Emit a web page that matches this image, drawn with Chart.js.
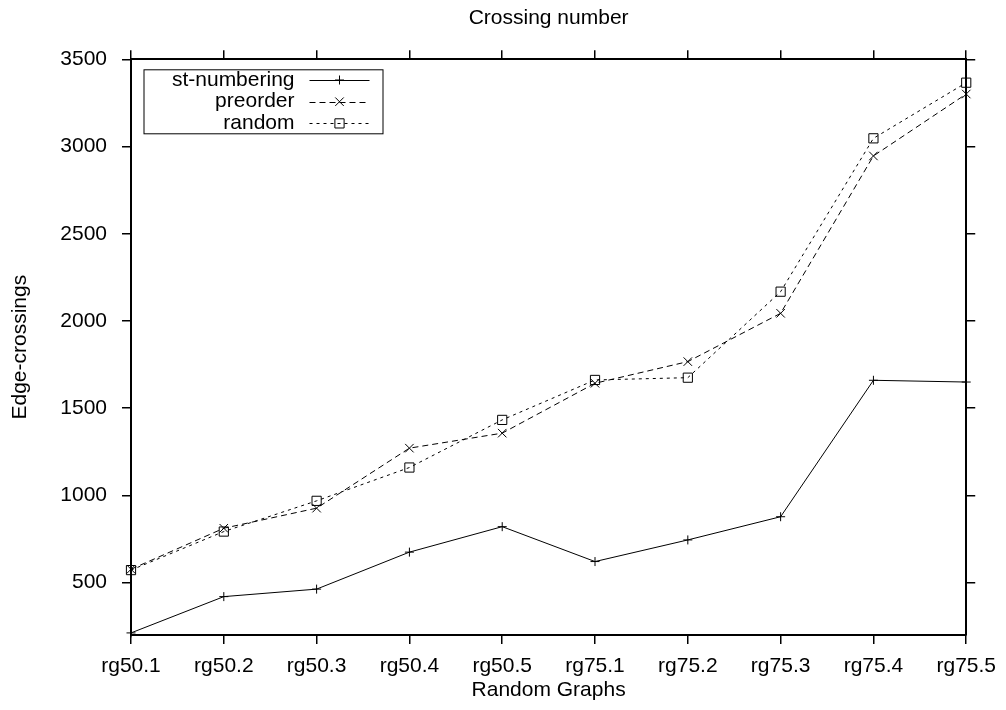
<!DOCTYPE html>
<html>
<head>
<meta charset="utf-8">
<title>Crossing number</title>
<script src="https://cdn.jsdelivr.net/npm/chart.js@4.4.1/dist/chart.umd.min.js"></script>
<style>
  html, body { margin: 0; padding: 0; background: #fff; }
  #wrap { width: 1006px; height: 710px; }
</style>
</head>
<body>
<div id="wrap"><canvas id="crossingChart" width="1006" height="710"></canvas></div>
<script>
// Data
const graphs = ['rg50.1', 'rg50.2', 'rg50.3', 'rg50.4', 'rg50.5', 'rg75.1', 'rg75.2', 'rg75.3', 'rg75.4', 'rg75.5'];
const stNumbering = [212, 420, 463, 675, 821, 621, 745, 878, 1660, 1650];
const preorder = [577, 812, 927, 1271, 1357, 1643, 1767, 2044, 2946, 3301];
const randomOrder = [572, 793, 969, 1160, 1433, 1662, 1675, 2168, 3047, 3366];
const yTickValues = [500, 1000, 1500, 2000, 2500, 3000, 3500];
const yMin = 200;
const yMax = 3500;

const FONT_SIZE = 21;
Chart.defaults.font.family = "'Liberation Sans', Arial, Helvetica, sans-serif";
Chart.defaults.font.size = FONT_SIZE;
Chart.defaults.color = '#000';

// gnuplot style key: label on the left, line sample + marker on the right
const gnuplotKey = {
  id: 'gnuplotKey',
  afterDatasetsDraw(chart) {
    const { ctx, chartArea } = chart;
    const left = chartArea.left + 12.5;
    const top = chartArea.top + 10;
    const rowH = 21.7;

    ctx.save();
    ctx.strokeStyle = '#000';
    ctx.lineWidth = 1;
    ctx.strokeRect(left + 0.5, top + 0.5, 239, 64);

    ctx.font = FONT_SIZE + "px 'Liberation Sans', Arial, sans-serif";
    ctx.textAlign = 'right';
    ctx.textBaseline = 'middle';

    chart.data.datasets.forEach((ds, i) => {
      const y = top + 10.7 + i * rowH;
      ctx.fillStyle = '#000';
      ctx.fillText(ds.label, left + 151, y);

      ctx.beginPath();
      ctx.setLineDash(ds.borderDash || []);
      ctx.lineWidth = ds.borderWidth;
      ctx.moveTo(left + 166, Math.round(y) + 0.5);
      ctx.lineTo(left + 226, Math.round(y) + 0.5);
      ctx.stroke();
      ctx.setLineDash([]);

      ctx.fillStyle = ds.pointBackgroundColor || 'rgba(0,0,0,0)';
      ctx.lineWidth = ds.pointBorderWidth;
      if (Chart.helpers && Chart.helpers.drawPoint) {
        Chart.helpers.drawPoint(ctx, {
          pointStyle: ds.pointStyle,
          radius: ds.pointRadius,
          rotation: 0,
          borderWidth: ds.pointBorderWidth
        }, left + 196, y);
      }
    });
    ctx.restore();
  }
};

const tickGrid = {
  display: true,
  drawOnChartArea: false,
  drawTicks: true,
  tickLength: 9,
  color: '#000',
  lineWidth: 1.5,
  offset: false
};
const frame = { display: true, color: '#000', width: 2 };

new Chart(document.getElementById('crossingChart'), {
  type: 'line',
  data: {
    labels: graphs,
    datasets: [
      {
        label: 'st-numbering',
        data: stNumbering,
        borderColor: '#000',
        borderWidth: 1,
        pointStyle: 'cross',
        pointRadius: 4.5,
        pointBorderWidth: 1,
        pointBorderColor: '#000',
        tension: 0,
        clip: 10
      },
      {
        label: 'preorder',
        data: preorder,
        borderColor: '#000',
        borderWidth: 1,
        borderDash: [6, 4],
        pointStyle: 'crossRot',
        pointRadius: 6,
        pointBorderWidth: 1,
        pointBorderColor: '#000',
        tension: 0,
        clip: 10
      },
      {
        label: 'random',
        data: randomOrder,
        borderColor: '#000',
        borderWidth: 1,
        borderDash: [3, 4],
        pointStyle: 'rect',
        pointRadius: 6.5,
        pointBorderWidth: 1,
        pointBorderColor: '#000',
        pointBackgroundColor: 'rgba(0,0,0,0)',
        tension: 0,
        clip: 10
      }
    ]
  },
  options: {
    responsive: false,
    animation: false,
    events: [],
    layout: { padding: { left: 0, right: 23, top: 0, bottom: 0 } },
    plugins: {
      legend: { display: false },
      tooltip: { enabled: false },
      title: { display: false }
    },
    scales: {
      x: {
        type: 'category',
        position: 'bottom',
        offset: false,
        grid: tickGrid,
        border: frame,
        ticks: { padding: 10, maxRotation: 0, autoSkip: false, color: '#000' },
        title: {
          display: true,
          text: 'Random Graphs',
          color: '#000',
          padding: { top: 0, bottom: 7 }
        },
        afterFit(scale) { scale.height = 75; }
      },
      // top axis: mirrored ticks, carries the plot title centred over the plot
      x2: {
        type: 'category',
        position: 'top',
        labels: graphs,
        offset: false,
        grid: tickGrid,
        border: frame,
        ticks: { display: false },
        title: {
          display: true,
          text: 'Crossing number',
          color: '#000',
          padding: { top: 5.4, bottom: 0 }
        },
        afterFit(scale) { scale.height = 59.3; }
      },
      y: {
        type: 'linear',
        position: 'left',
        min: yMin,
        max: yMax,
        grid: tickGrid,
        border: frame,
        ticks: {
          padding: 15,
          color: '#000',
          callback: value => String(value)
        },
        afterBuildTicks(scale) { scale.ticks = yTickValues.map(v => ({ value: v })); },
        title: {
          display: true,
          text: 'Edge-crossings',
          color: '#000',
          padding: { top: 7.4, bottom: 0 }
        },
        afterFit(scale) { scale.width = 131; }
      },
      y2: {
        type: 'linear',
        position: 'right',
        min: yMin,
        max: yMax,
        grid: tickGrid,
        border: frame,
        ticks: { display: false },
        afterBuildTicks(scale) { scale.ticks = yTickValues.map(v => ({ value: v })); },
        afterFit(scale) { scale.width = 9; }
      }
    }
  },
  plugins: [gnuplotKey]
});
</script>
</body>
</html>
